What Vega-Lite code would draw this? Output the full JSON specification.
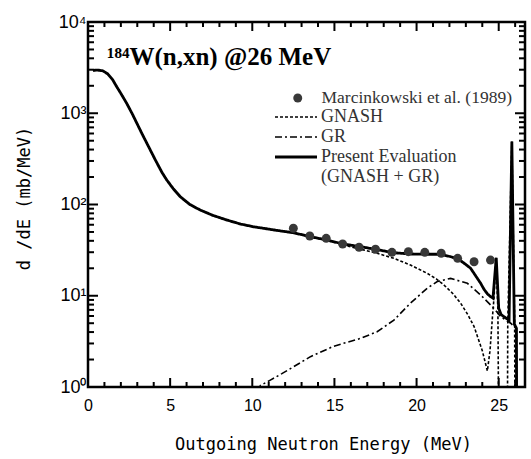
{
  "$schema": "https://vega.github.io/schema/vega-lite/v6.json",
  "width": 437,
  "height": 365,
  "autosize": {"type": "none"},
  "padding": {"left": 88, "top": 22, "right": 6, "bottom": 72},
  "background": "white",
  "config": {
    "view": {"stroke": "black", "strokeWidth": 2.5},
    "axis": {"grid": false, "domain": false, "tickSize": 0, "tickOpacity": 0, "labelColor": "black", "labelFont": "Liberation Sans", "labelFontSize": 16, "labelOverlap": false, "labelFlush": false, "titleColor": "black", "titleFontWeight": "normal"}
  },
  "title": {"text": "¹⁸⁴W(n,xn) @26 MeV", "anchor": "start", "frame": "group", "font": "Liberation Serif", "fontSize": 25, "fontWeight": "bold", "color": "black", "baseline": "alphabetic", "offset": 0, "dx": 19, "dy": 77},
  "datasets": {
    "curves": [
      {"series": "Present Evaluation", "E": 0.3, "v": 2950},
      {"series": "Present Evaluation", "E": 0.6, "v": 2970},
      {"series": "Present Evaluation", "E": 0.9, "v": 2920},
      {"series": "Present Evaluation", "E": 1.2, "v": 2700},
      {"series": "Present Evaluation", "E": 1.5, "v": 2330},
      {"series": "Present Evaluation", "E": 1.75, "v": 1950},
      {"series": "Present Evaluation", "E": 2.0, "v": 1650},
      {"series": "Present Evaluation", "E": 2.36, "v": 1280},
      {"series": "Present Evaluation", "E": 2.7, "v": 980},
      {"series": "Present Evaluation", "E": 2.97, "v": 780},
      {"series": "Present Evaluation", "E": 3.3, "v": 590},
      {"series": "Present Evaluation", "E": 3.58, "v": 470},
      {"series": "Present Evaluation", "E": 4.09, "v": 310},
      {"series": "Present Evaluation", "E": 4.5, "v": 225},
      {"series": "Present Evaluation", "E": 4.8, "v": 185},
      {"series": "Present Evaluation", "E": 5.2, "v": 148},
      {"series": "Present Evaluation", "E": 5.61, "v": 122},
      {"series": "Present Evaluation", "E": 6.2, "v": 100},
      {"series": "Present Evaluation", "E": 6.83, "v": 87},
      {"series": "Present Evaluation", "E": 7.6, "v": 76},
      {"series": "Present Evaluation", "E": 8.46, "v": 67.5},
      {"series": "Present Evaluation", "E": 9.3, "v": 61},
      {"series": "Present Evaluation", "E": 10.08, "v": 57},
      {"series": "Present Evaluation", "E": 10.5, "v": 55.5},
      {"series": "Present Evaluation", "E": 11.5, "v": 52},
      {"series": "Present Evaluation", "E": 12.52, "v": 49},
      {"series": "Present Evaluation", "E": 13.5, "v": 44.5},
      {"series": "Present Evaluation", "E": 14.55, "v": 40.8},
      {"series": "Present Evaluation", "E": 15.5, "v": 37},
      {"series": "Present Evaluation", "E": 16.59, "v": 34.5},
      {"series": "Present Evaluation", "E": 17.6, "v": 32},
      {"series": "Present Evaluation", "E": 18.62, "v": 29.6},
      {"series": "Present Evaluation", "E": 19.6, "v": 28.7},
      {"series": "Present Evaluation", "E": 20.65, "v": 28.5},
      {"series": "Present Evaluation", "E": 21.26, "v": 28.5},
      {"series": "Present Evaluation", "E": 21.7, "v": 27.8},
      {"series": "Present Evaluation", "E": 22.07, "v": 26.8},
      {"series": "Present Evaluation", "E": 22.4, "v": 25.7},
      {"series": "Present Evaluation", "E": 22.68, "v": 24.2},
      {"series": "Present Evaluation", "E": 23.0, "v": 22},
      {"series": "Present Evaluation", "E": 23.29, "v": 20},
      {"series": "Present Evaluation", "E": 23.6, "v": 16.5},
      {"series": "Present Evaluation", "E": 23.9, "v": 13.7},
      {"series": "Present Evaluation", "E": 24.1, "v": 11.8},
      {"series": "Present Evaluation", "E": 24.31, "v": 10.5},
      {"series": "Present Evaluation", "E": 24.5, "v": 9.8},
      {"series": "Present Evaluation", "E": 24.65, "v": 9.4},
      {"series": "Present Evaluation", "E": 24.85, "v": 26},
      {"series": "Present Evaluation", "E": 25.0, "v": 7.3},
      {"series": "Present Evaluation", "E": 25.15, "v": 6.2},
      {"series": "Present Evaluation", "E": 25.32, "v": 5.9},
      {"series": "Present Evaluation", "E": 25.5, "v": 5.6},
      {"series": "Present Evaluation", "E": 25.63, "v": 5.4},
      {"series": "Present Evaluation", "E": 25.8, "v": 490},
      {"series": "Present Evaluation", "E": 25.95, "v": 4.9},
      {"series": "Present Evaluation", "E": 26.08, "v": 4.4},
      {"series": "Present Evaluation", "E": 26.1, "v": 0.1},
      {"series": "GNASH", "E": 0.3, "v": 2950},
      {"series": "GNASH", "E": 0.6, "v": 2970},
      {"series": "GNASH", "E": 0.9, "v": 2920},
      {"series": "GNASH", "E": 1.2, "v": 2700},
      {"series": "GNASH", "E": 1.5, "v": 2330},
      {"series": "GNASH", "E": 1.75, "v": 1950},
      {"series": "GNASH", "E": 2.0, "v": 1650},
      {"series": "GNASH", "E": 2.36, "v": 1280},
      {"series": "GNASH", "E": 2.7, "v": 980},
      {"series": "GNASH", "E": 2.97, "v": 780},
      {"series": "GNASH", "E": 3.3, "v": 590},
      {"series": "GNASH", "E": 3.58, "v": 470},
      {"series": "GNASH", "E": 4.09, "v": 310},
      {"series": "GNASH", "E": 4.5, "v": 225},
      {"series": "GNASH", "E": 4.8, "v": 185},
      {"series": "GNASH", "E": 5.2, "v": 148},
      {"series": "GNASH", "E": 5.61, "v": 122},
      {"series": "GNASH", "E": 6.2, "v": 100},
      {"series": "GNASH", "E": 6.83, "v": 87},
      {"series": "GNASH", "E": 7.6, "v": 76},
      {"series": "GNASH", "E": 8.46, "v": 67.5},
      {"series": "GNASH", "E": 9.3, "v": 61},
      {"series": "GNASH", "E": 10.08, "v": 57},
      {"series": "GNASH", "E": 10.5, "v": 55.5},
      {"series": "GNASH", "E": 11.5, "v": 52},
      {"series": "GNASH", "E": 12.52, "v": 49},
      {"series": "GNASH", "E": 13.5, "v": 44.5},
      {"series": "GNASH", "E": 14.55, "v": 40.5},
      {"series": "GNASH", "E": 15.57, "v": 36},
      {"series": "GNASH", "E": 16.59, "v": 32.3},
      {"series": "GNASH", "E": 17.6, "v": 29.2},
      {"series": "GNASH", "E": 18.62, "v": 25.7},
      {"series": "GNASH", "E": 19.63, "v": 21.7},
      {"series": "GNASH", "E": 20.65, "v": 17.6},
      {"series": "GNASH", "E": 21.2, "v": 15.3},
      {"series": "GNASH", "E": 21.67, "v": 13.1},
      {"series": "GNASH", "E": 22.2, "v": 10.6},
      {"series": "GNASH", "E": 22.68, "v": 8.3},
      {"series": "GNASH", "E": 23.1, "v": 6.3},
      {"series": "GNASH", "E": 23.5, "v": 4.6},
      {"series": "GNASH", "E": 24.0, "v": 2.5},
      {"series": "GNASH", "E": 24.31, "v": 1.5},
      {"series": "GNASH", "E": 24.47, "v": 2.5},
      {"series": "GNASH", "E": 24.62, "v": 5.9},
      {"series": "GNASH", "E": 24.72, "v": 9.8},
      {"series": "GNASH", "E": 24.83, "v": 26},
      {"series": "GNASH", "E": 24.95, "v": 7},
      {"series": "GNASH", "E": 25.02, "v": 0.1},
      {"series": "GNASH", "E": 25.52, "v": 0.1},
      {"series": "GNASH", "E": 25.55, "v": 5},
      {"series": "GNASH", "E": 25.8, "v": 490},
      {"series": "GNASH", "E": 25.97, "v": 5},
      {"series": "GNASH", "E": 26.0, "v": 0.1},
      {"series": "GR", "E": 10.3, "v": 0.9},
      {"series": "GR", "E": 10.5, "v": 1.04},
      {"series": "GR", "E": 11.1, "v": 1.19},
      {"series": "GR", "E": 11.8, "v": 1.4},
      {"series": "GR", "E": 12.52, "v": 1.67},
      {"series": "GR", "E": 13.54, "v": 2.15},
      {"series": "GR", "E": 14.96, "v": 2.8},
      {"series": "GR", "E": 15.8, "v": 3.1},
      {"series": "GR", "E": 16.59, "v": 3.41},
      {"series": "GR", "E": 17.6, "v": 4.04},
      {"series": "GR", "E": 18.62, "v": 5.4},
      {"series": "GR", "E": 19.63, "v": 8.3},
      {"series": "GR", "E": 20.65, "v": 12.1},
      {"series": "GR", "E": 21.26, "v": 14.3},
      {"series": "GR", "E": 22.07, "v": 15.5},
      {"series": "GR", "E": 23.09, "v": 13.7},
      {"series": "GR", "E": 23.9, "v": 10.2},
      {"series": "GR", "E": 24.7, "v": 7.3},
      {"series": "GR", "E": 25.12, "v": 5.9},
      {"series": "GR", "E": 25.73, "v": 5.0},
      {"series": "GR", "E": 26.04, "v": 4.4},
      {"series": "GR", "E": 26.1, "v": 0.1}
    ],
    "exp": [
      {"E": 12.5, "v": 54.9},
      {"E": 13.5, "v": 45.2},
      {"E": 14.5, "v": 42.6},
      {"E": 15.5, "v": 36.9},
      {"E": 16.5, "v": 34.0},
      {"E": 17.5, "v": 32.3},
      {"E": 18.5, "v": 29.9},
      {"E": 19.5, "v": 30.4},
      {"E": 20.5, "v": 29.9},
      {"E": 21.5, "v": 29.2},
      {"E": 22.5, "v": 25.7},
      {"E": 23.5, "v": 23.6},
      {"E": 24.5, "v": 24.6}
    ],
    "xticks": [
      {"t": 0}, {"t": 1}, {"t": 2}, {"t": 3}, {"t": 4}, {"t": 5}, {"t": 6}, {"t": 7}, {"t": 8}, {"t": 9},
      {"t": 10}, {"t": 11}, {"t": 12}, {"t": 13}, {"t": 14}, {"t": 15}, {"t": 16}, {"t": 17}, {"t": 18}, {"t": 19},
      {"t": 20}, {"t": 21}, {"t": 22}, {"t": 23}, {"t": 24}, {"t": 25}, {"t": 26}
    ],
    "yticks": [
      {"t": 1}, {"t": 2}, {"t": 3}, {"t": 4}, {"t": 5}, {"t": 6}, {"t": 7}, {"t": 8}, {"t": 9},
      {"t": 10}, {"t": 20}, {"t": 30}, {"t": 40}, {"t": 50}, {"t": 60}, {"t": 70}, {"t": 80}, {"t": 90},
      {"t": 100}, {"t": 200}, {"t": 300}, {"t": 400}, {"t": 500}, {"t": 600}, {"t": 700}, {"t": 800}, {"t": 900},
      {"t": 1000}, {"t": 2000}, {"t": 3000}, {"t": 4000}, {"t": 5000}, {"t": 6000}, {"t": 7000}, {"t": 8000}, {"t": 9000},
      {"t": 10000}
    ]
  },
  "layer": [
    {
      "data": {"name": "curves"},
      "mark": {"type": "line", "clip": true, "color": "black", "strokeCap": "butt"},
      "encoding": {
        "x": {"field": "E", "type": "quantitative", "scale": {"domain": [0, 26.6], "nice": false, "zero": false},
          "axis": {"orient": "bottom", "values": [0, 5, 10, 15, 20, 25], "tickCount": 200,
            "labelExpr": "'' + datum.value",
            "labelPadding": 10,
            "title": "Outgoing Neutron Energy (MeV)", "titleFont": "DejaVu Sans Mono", "titleFontSize": 17,
            "titleX": 235, "titleY": 62, "titleBaseline": "alphabetic", "titleAlign": "center"}},
        "y": {"field": "v", "type": "quantitative", "scale": {"type": "log", "domain": [1, 10000], "nice": false},
          "axis": {"orient": "left", "values": [1, 10, 100, 1000, 10000], "tickCount": 200,
            "labelExpr": "datum.value == 1 ? '10⁰' : datum.value == 10 ? '10¹' : datum.value == 100 ? '10²' : datum.value == 1000 ? '10³' : '10⁴'",
            "labelFontSize": 18,
            "labelPadding": 2,
            "title": "d   /dE  (mb/MeV)", "titleFont": "DejaVu Sans Mono", "titleFontSize": 17,
            "titleX": -64, "titleY": 176, "titleBaseline": "middle", "titleAlign": "center", "titleAngle": -90}},
        "strokeDash": {"field": "series", "type": "nominal",
          "scale": {"domain": ["GNASH", "GR", "Present Evaluation", "(GNASH + GR)"], "range": [[3, 2], [7, 3, 2, 3], [1, 0], [1, 0]]},
          "legend": {"title": null, "orient": "none", "legendX": 187, "legendY": 85.25, "padding": 0, "symbolType": "stroke", "symbolSize": 1764, "symbolStrokeColor": "black", "symbolStrokeWidth": 1.5, "symbolOffset": 12, "labelFont": "Liberation Serif", "labelFontSize": 18, "labelColor": "#333333", "labelOffset": 16, "labelLimit": 300, "clipHeight": 19.5, "rowPadding": 0,
            "encode": {"symbols": {"update": {"opacity": {"value": 1}, "strokeWidth": {"signal": "datum.value === 'Present Evaluation' ? 2.8 : datum.value === '(GNASH + GR)' ? 0 : 1.5"}}}}}},
        "strokeWidth": {"condition": {"test": "datum.series === 'Present Evaluation'", "value": 2.8}, "value": 1.6},
        "order": {"value": null}
      }
    },
    {
      "data": {"name": "exp"},
      "mark": {"type": "point", "filled": true, "size": 80, "opacity": 1, "shape": "circle"},
      "encoding": {
        "x": {"field": "E", "type": "quantitative"},
        "y": {"field": "v", "type": "quantitative"},
        "color": {"datum": "Marcinkowski et al. (1989)", "scale": {"range": ["#383838"]},
          "legend": {"title": null, "orient": "none", "legendX": 201, "legendY": 66.25, "padding": 0, "symbolType": "circle", "symbolSize": 80, "labelFont": "Liberation Serif", "labelFontSize": 17.5, "labelColor": "#333333", "labelOffset": 15, "labelLimit": 300, "clipHeight": 19.5}}
      }
    },
    {
      "data": {"name": "xticks"},
      "mark": {"type": "tick", "orient": "vertical", "clip": true, "color": "black", "opacity": 1, "thickness": 2},
      "encoding": {
        "x": {"field": "t", "type": "quantitative"},
        "y": {"datum": 1, "type": "quantitative"},
        "size": {"condition": {"test": "datum.t % 5 === 0", "value": 18}, "value": 10}
      }
    },
    {
      "data": {"name": "xticks"},
      "mark": {"type": "tick", "orient": "vertical", "clip": true, "color": "black", "opacity": 1, "thickness": 2},
      "encoding": {
        "x": {"field": "t", "type": "quantitative"},
        "y": {"datum": 10000, "type": "quantitative"},
        "size": {"condition": {"test": "datum.t % 5 === 0", "value": 18}, "value": 10}
      }
    },
    {
      "data": {"name": "yticks"},
      "mark": {"type": "tick", "orient": "horizontal", "clip": true, "color": "black", "opacity": 1, "thickness": 2},
      "encoding": {
        "y": {"field": "t", "type": "quantitative"},
        "x": {"datum": 0, "type": "quantitative"},
        "size": {"condition": {"test": "datum.t == 1 || datum.t == 10 || datum.t == 100 || datum.t == 1000 || datum.t == 10000", "value": 20}, "value": 12}
      }
    },
    {
      "data": {"name": "yticks"},
      "mark": {"type": "tick", "orient": "horizontal", "clip": true, "color": "black", "opacity": 1, "thickness": 2},
      "encoding": {
        "y": {"field": "t", "type": "quantitative"},
        "x": {"datum": 26.6, "type": "quantitative"},
        "size": {"condition": {"test": "datum.t == 1 || datum.t == 10 || datum.t == 100 || datum.t == 1000 || datum.t == 10000", "value": 20}, "value": 12}
      }
    }
  ]
}
